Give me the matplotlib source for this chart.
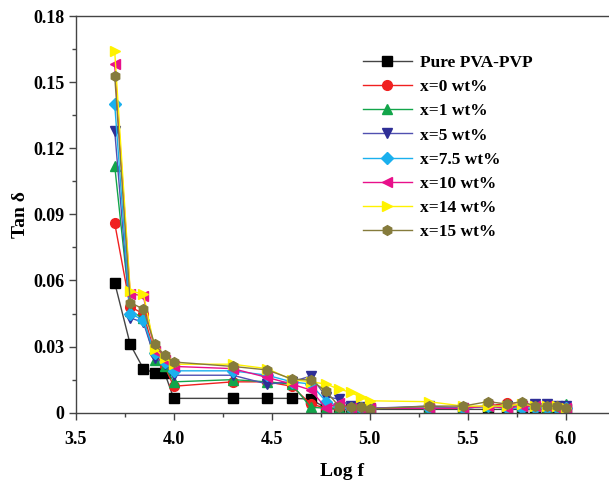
import numpy as np
import matplotlib
matplotlib.use("Agg")
import matplotlib.pyplot as plt
from matplotlib.ticker import MultipleLocator

plt.rcParams['font.family'] = 'Liberation Serif'
plt.rcParams['font.weight'] = 'bold'

# measurement frequencies (Hz)
freq_hz = [5e3, 6e3, 7e3, 8e3, 9e3, 1e4, 2e4, 3e4, 4e4, 5e4, 6e4, 7e4, 8e4, 9e4,
           1e5, 2e5, 3e5, 4e5, 5e5, 6e5, 7e5, 8e5, 9e5, 1e6]
log_f = np.log10(freq_hz)

# tan delta for each sample
tan_pure = [0.059, 0.031, 0.020, 0.018, 0.018, 0.0065, 0.0065, 0.0065, 0.0065, 0.0062,
            0.0020, 0.0015, 0.0015, 0.0015, 0.0015, 0.0015, 0.0015, 0.0015, 0.0015, 0.0015,
            0.0015, 0.0015, 0.0015, 0.0015]
tan_x0 = [0.086, 0.048, 0.045, 0.027, 0.021, 0.012, 0.014, 0.014, 0.012, 0.004,
          0.002, 0.002, 0.002, 0.002, 0.002, 0.002, 0.0025, 0.003, 0.0043, 0.0035,
          0.003, 0.003, 0.003, 0.003]
tan_x1 = [0.112, 0.046, 0.043, 0.024, 0.021, 0.014, 0.015, 0.014, 0.013, 0.0025,
          0.002, 0.002, 0.002, 0.002, 0.002, 0.002, 0.002, 0.003, 0.003, 0.003,
          0.003, 0.002, 0.003, 0.004]
tan_x5 = [0.128, 0.043, 0.041, 0.025, 0.022, 0.017, 0.017, 0.013, 0.014, 0.0166,
          0.0073, 0.0061, 0.003, 0.0025, 0.002, 0.003, 0.002, 0.003, 0.003, 0.003,
          0.004, 0.004, 0.003, 0.003]
tan_x75 = [0.140, 0.045, 0.042, 0.027, 0.023, 0.019, 0.019, 0.017, 0.014, 0.013,
           0.005, 0.003, 0.002, 0.002, 0.002, 0.002, 0.002, 0.003, 0.002, 0.002,
           0.002, 0.002, 0.002, 0.002]
tan_x10 = [0.158, 0.054, 0.053, 0.028, 0.024, 0.021, 0.020, 0.016, 0.013, 0.0103,
           0.002, 0.0045, 0.002, 0.002, 0.002, 0.002, 0.002, 0.003, 0.002, 0.003,
           0.003, 0.003, 0.002, 0.002]
tan_x14 = [0.164, 0.055, 0.054, 0.029, 0.025, 0.022, 0.022, 0.020, 0.015, 0.014,
           0.013, 0.0106, 0.0093, 0.0070, 0.0054, 0.005, 0.003, 0.003, 0.003, 0.004,
           0.003, 0.003, 0.003, 0.002]
tan_x15 = [0.153, 0.050, 0.047, 0.031, 0.026, 0.023, 0.021, 0.0194, 0.0153, 0.0148,
           0.0097, 0.0027, 0.0027, 0.0025, 0.0017, 0.003, 0.003, 0.005, 0.004, 0.005,
           0.003, 0.003, 0.003, 0.002]

series = [
    ("Pure PVA-PVP", tan_pure, "s", "#000000", "#444444"),
    ("x=0 wt%", tan_x0, "o", "#F02020", "#F02020"),
    ("x=1 wt%", tan_x1, "^", "#12A54A", "#12A54A"),
    ("x=5 wt%", tan_x5, "v", "#2E2E96", "#5050B0"),
    ("x=7.5 wt%", tan_x75, "D", "#1AB0EE", "#1AB0EE"),
    ("x=10 wt%", tan_x10, "<", "#E8108A", "#E8108A"),
    ("x=14 wt%", tan_x14, ">", "#FFF200", "#FFF200"),
    ("x=15 wt%", tan_x15, "h", "#857B3C", "#857B3C"),
]

W, H = 609, 483
fig = plt.figure(figsize=(W / 100, H / 100), dpi=100)
x0, y0, x1, y1 = 75.7, 412.7, 609, 16
ax = fig.add_axes([x0 / W, 1 - y0 / H, (x1 - x0) / W, (y0 - y1) / H])

for label, vals, mk, mcol, lcol in series:
    ms = 6 if mk == "D" else 7
    ax.plot(log_f, vals, color=lcol, linewidth=1.0, marker=mk, markersize=ms,
            markerfacecolor=mcol, markeredgecolor=mcol, label=label)

ax.set_xlim(3.5, 3.5 + (x1 - x0) / 196.0)
ax.set_ylim(0, 0.18)
ax.set_xticks([3.5, 4.0, 4.5, 5.0, 5.5, 6.0])
ax.set_xticklabels(["3.5", "4.0", "4.5", "5.0", "5.5", "6.0"])
ax.set_yticks([0, 0.03, 0.06, 0.09, 0.12, 0.15, 0.18])
ax.set_yticklabels(["0", "0.03", "0.06", "0.09", "0.12", "0.15", "0.18"])
ax.xaxis.set_minor_locator(MultipleLocator(0.25))
ax.yaxis.set_minor_locator(MultipleLocator(0.015))
ax.tick_params(which='major', direction='out', length=5, width=1, labelsize=13, color='#444444')
ax.tick_params(which='minor', direction='out', length=3, width=1, color='#444444')
ax.tick_params(axis='x', which='major', pad=8)
ax.tick_params(axis='y', which='major', pad=3)
ax.spines['right'].set_visible(False)
for s in ['left', 'bottom', 'top']:
    ax.spines[s].set_color('#444444')
    ax.spines[s].set_linewidth(1.0)

ax.set_xlabel("Log f", fontsize=14, fontweight='bold', labelpad=11)
ax.set_ylabel("Tan δ", fontsize=14, fontweight='bold', labelpad=3)

ax.legend(loc='upper left', bbox_to_anchor=(363 / W, 1 - 55 / H), bbox_transform=fig.transFigure,
          frameon=False, fontsize=12.5, handlelength=2.8, handletextpad=0.46,
          labelspacing=0.46, borderpad=0, borderaxespad=0)

fig.savefig("out.png", dpi=100)
